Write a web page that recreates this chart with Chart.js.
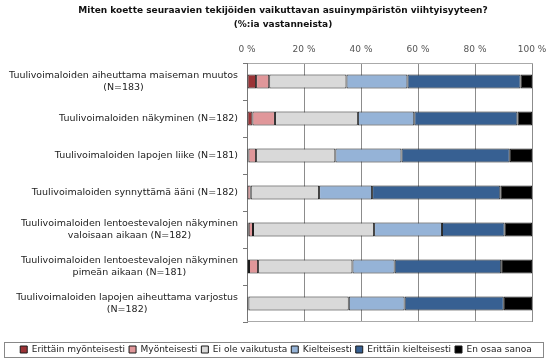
<!DOCTYPE html>
<html>
<head>
<meta charset="utf-8">
<script src="https://cdn.jsdelivr.net/npm/chart.js@4/dist/chart.umd.min.js"></script>
<style>
  html, body { margin: 0; padding: 0; background: #fff; }
  #wrap { width: 547px; height: 362px; position: relative; }
</style>
</head>
<body>
<div id="wrap"><canvas id="chart"></canvas></div>
<script>
const categories = [
  ['Tuulivoimaloiden aiheuttama maiseman muutos', '(N=183)'],
  ['Tuulivoimaloiden näkyminen (N=182)'],
  ['Tuulivoimaloiden lapojen liike (N=181)'],
  ['Tuulivoimaloiden synnyttämä ääni (N=182)'],
  ['Tuulivoimaloiden lentoestevalojen näkyminen', 'valoisaan aikaan (N=182)'],
  ['Tuulivoimaloiden lentoestevalojen näkyminen', 'pimeän aikaan (N=181)'],
  ['Tuulivoimaloiden lapojen aiheuttama varjostus', '(N=182)']
];

const seriesNames = ['Erittäin myönteisesti', 'Myönteisesti', 'Ei ole vaikutusta',
  'Kielteisesti', 'Erittäin kielteisesti', 'En osaa sanoa'];

const erittainMyonteisesti = [3.2, 1.9, 0.5, 0.0, 0.6, 0.7, 0.0];
const myonteisesti         = [4.6, 7.9, 2.7, 1.3, 1.5, 3.2, 0.5];
const eiVaikutusta         = [27.1, 29.1, 27.8, 24.0, 42.5, 33.1, 35.2];
const kielteisesti         = [21.4, 19.8, 23.2, 18.6, 23.8, 14.8, 19.6];
const erittainKielteisesti = [39.7, 36.2, 38.0, 45.0, 22.0, 37.4, 34.8];
const enOsaaSanoa          = [4.0, 5.1, 7.8, 11.1, 9.6, 10.8, 9.9];

const xTicks = [0, 20, 40, 60, 80, 100];

const colors = ['#9b3336', '#e0979a', '#d9d9d9', '#95b3d7', '#376092', '#000000'];
const FONT = 'DejaVu Sans';

const seriesValues = [erittainMyonteisesti, myonteisesti, eiVaikutusta,
  kielteisesti, erittainKielteisesti, enOsaaSanoa];

// category labels: right aligned block, lines centred inside the block
const labelPlugin = {
  id: 'catLabels',
  afterLayout(chart) {
    // title and legend sit a bit right of the plot centre in the original
    if (chart.titleBlock) { chart.titleBlock.left += 17; chart.titleBlock.right += 17; }
    if (chart.legend) {
      chart.legend.left += 10; chart.legend.right += 10;
      chart.legend.top += 19; chart.legend.bottom += 19;
    }
  },
  afterDraw(chart) {
    const ctx = chart.ctx;
    const yScale = chart.scales.y;
    const area = chart.chartArea;
    const right = area.left - 9;
    const lh = 12;
    ctx.save();
    // bottom edge of the plot
    ctx.strokeStyle = '#aaa';
    ctx.lineWidth = 1;
    ctx.beginPath();
    ctx.moveTo(area.left, Math.round(area.bottom) - 0.5);
    ctx.lineTo(area.right, Math.round(area.bottom) - 0.5);
    ctx.stroke();

    ctx.font = '9.5px ' + FONT;
    ctx.fillStyle = '#222';
    ctx.textAlign = 'center';
    ctx.textBaseline = 'middle';
    categories.forEach((lines, i) => {
      const y = yScale.getPixelForValue(i);
      const w = Math.max(...lines.map(l => ctx.measureText(l).width));
      const cx = right - w / 2;
      const y0 = y - (lines.length - 1) * lh / 2;
      lines.forEach((l, k) => ctx.fillText(l, cx, y0 + k * lh));
    });
    ctx.restore();
  }
};

// frame round the legend
const legendBox = {
  id: 'legendBox',
  afterDraw(chart) {
    const boxes = chart.legend.legendHitBoxes;
    if (!boxes || !boxes.length) return;
    const ctx = chart.ctx;
    const l = 4, r = 543;
    const t = Math.min(...boxes.map(b => b.top)) - 3;
    const b = Math.max(...boxes.map(b => b.top + b.height)) + 3;
    ctx.save();
    ctx.strokeStyle = '#888';
    ctx.lineWidth = 1;
    ctx.strokeRect(l + 0.5, Math.round(t) + 0.5, r - l, Math.round(b - t));
    ctx.restore();
  }
};

new Chart(document.getElementById('chart'), {
  type: 'bar',
  data: {
    labels: categories,
    datasets: seriesNames.map((name, i) => ({
      label: name,
      data: seriesValues[i],
      backgroundColor: colors[i],
      borderColor: '#1a1a1a',
      borderWidth: 1,
      borderSkipped: false,
      barPercentage: 0.38,
      categoryPercentage: 1
    }))
  },
  options: {
    indexAxis: 'y',
    responsive: true,
    maintainAspectRatio: false,
    animation: false,
    layout: { padding: { left: 0, right: 15, top: 0, bottom: 17 } },
    plugins: {
      title: {
        display: true,
        text: ['Miten koette seuraavien tekijöiden vaikuttavan asuinympäristön viihtyisyyteen?', '(%:ia vastanneista)'],
        color: '#111',
        font: { family: FONT, size: 9, weight: 'bold', lineHeight: 1.5 },
        padding: { top: 4, bottom: 4 }
      },
      legend: {
        position: 'bottom',
        labels: {
          color: '#222',
          font: { family: FONT, size: 9 },
          boxWidth: 7,
          boxHeight: 7,
          padding: 4
        }
      },
      tooltip: { enabled: false }
    },
    scales: {
      x: {
        position: 'top',
        stacked: true,
        min: 0,
        max: 100,
        afterBuildTicks(scale) { scale.ticks = xTicks.map(v => ({ value: v })); },
        ticks: {
          color: '#555',
          font: { family: FONT, size: 9 },
          padding: 8,
          callback: v => v + ' %'
        },
        grid: { color: '#8c8c8c', lineWidth: 1, drawTicks: false },
        border: { color: '#aaa' },
        afterFit(scale) {
          scale.height = 28;
          scale.paddingLeft = 0;
          scale.paddingRight = 0;
        }
      },
      y: {
        stacked: true,
        ticks: { display: false },
        grid: { drawOnChartArea: false, offset: true, tickLength: 4, color: '#777' },
        border: { color: '#777' },
        afterFit(scale) { scale.width = 247; }
      }
    }
  },
  plugins: [labelPlugin, legendBox]
});
</script>
</body>
</html>
